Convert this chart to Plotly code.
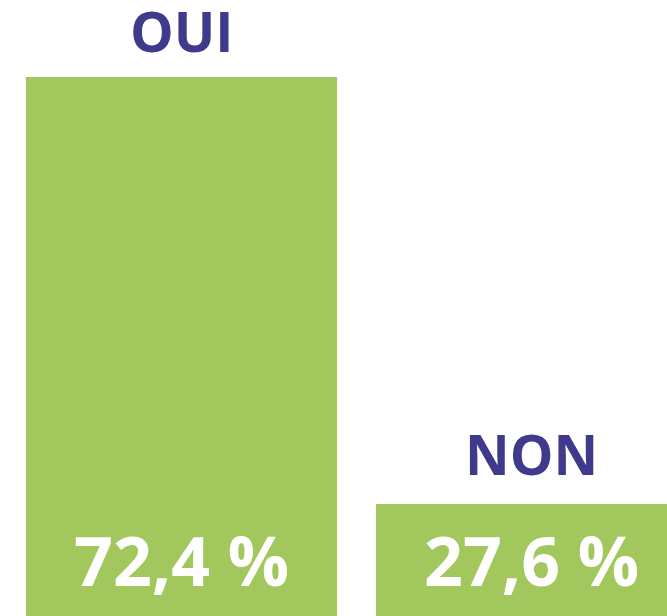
import plotly.graph_objects as go

categories = ["OUI", "NON"]
values = [72.4, 27.6]

GREEN = "#a2c75c"
PURPLE = "#403a8c"
FONT = "Open Sans"

def fmt(v):
    return f"{v:.1f}".replace(".", ",") + " %"

fig = go.Figure(go.Bar(
    x=categories, y=values, marker=dict(color=GREEN, line=dict(width=0)),
    width=0.889, hoverinfo="skip",
))

for c, v, shift in zip(categories, values, [8, 12]):
    fig.add_annotation(x=c, y=v, xref="x", yref="y", text=f"<b>{c}</b>",
                       showarrow=False, yanchor="bottom", yshift=shift, borderpad=0,
                       font=dict(family=FONT, size=55, color=PURPLE))
    fig.add_annotation(x=c, y=0, xref="x", yref="paper", text=f"<b>{fmt(v)}</b>",
                       showarrow=False, yanchor="bottom", yshift=8,
                       font=dict(family=FONT, size=68, color="white"))

fig.update_layout(
    width=667, height=616, margin=dict(l=0, r=0, t=0, b=0),
    paper_bgcolor="white", plot_bgcolor="white", showlegend=False,
    xaxis=dict(range=[-0.5186, 1.387], visible=False),
    yaxis=dict(range=[15.85, 80.48], visible=False),
)
fig.write_html("out.html", config={"displayModeBar": False, "staticPlot": True},
               post_script="document.body.style.margin='0';")
